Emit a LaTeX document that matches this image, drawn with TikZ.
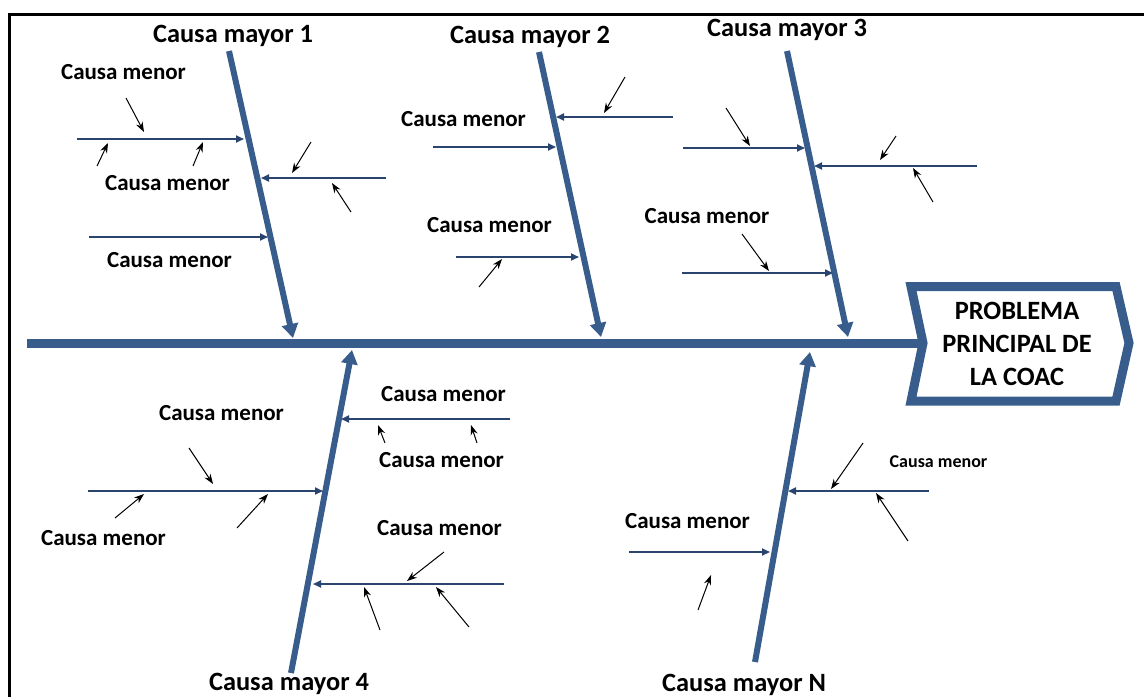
\documentclass[tikz,border=0pt]{standalone}
\usepackage{fontspec}
\setmainfont{Carlito}
\usetikzlibrary{arrows.meta}

\definecolor{azul}{RGB}{56,93,140}
\definecolor{azulosc}{RGB}{42,68,112}

\tikzset{
    espina/.style={azul, line width=3pt, -{Triangle[length=7pt,width=8pt]}},
    rama/.style={azulosc, line width=0.9pt, -{Triangle[length=4pt,width=3.5pt]}},
    flecha/.style={black, line width=0.5pt, -{Stealth[length=5pt,width=3.6pt]}},
    mayor/.style={inner sep=0pt, anchor=base, font=\fontsize{13.2}{16}\selectfont\bfseries},
    menor/.style={inner sep=0pt, anchor=base, font=\fontsize{11.5}{14}\selectfont\bfseries},
}

\begin{document}
\begin{tikzpicture}[x=0.5pt, y=-0.5pt]
    \useasboundingbox (0,0) rectangle (1144,697);

    % marco
    \draw[line width=1.5pt] (1144,14) -- (9,14) -- (9,697);

    % cabeza del pescado
    \draw[azul, line width=4.5pt, line join=miter]
        (911,286.5) -- (1116,286.5) -- (1129,343) -- (1116,401)
        -- (911,401) -- (923,343) -- cycle;
    \node (problema) [inner sep=0pt, align=center,
        font=\fontsize{13.2}{16.5}\selectfont\bfseries] at (1017,344)
        {PROBLEMA\\PRINCIPAL DE\\LA COAC};

    % espina central
    \coordinate (cola) at (27,343);
    \coordinate (cabeza) at (923,343);
    \draw[azul, line width=4.5pt] (cola) -- (cabeza);

    % causas mayores
    \coordinate (m1) at (229,51);  \coordinate (e1) at (293,338);
    \coordinate (m2) at (539,52);  \coordinate (e2) at (601,337);
    \coordinate (m3) at (787,51);  \coordinate (e3) at (848,337);
    \coordinate (m4) at (291,673); \coordinate (e4) at (352,350);
    \coordinate (mN) at (755,662); \coordinate (eN) at (810,352);
    \draw[espina] (m1) -- (e1);
    \draw[espina] (m2) -- (e2);
    \draw[espina] (m3) -- (e3);
    \draw[espina] (m4) -- (e4);
    \draw[espina] (mN) -- (eN);

    \node (t1) [mayor] at (233,42) {Causa mayor 1};
    \node (t2) [mayor] at (530,43) {Causa mayor 2};
    \node (t3) [mayor] at (787,36) {Causa mayor 3};
    \node (t4) [mayor] at (289,690) {Causa mayor 4};
    \node (tN) [mayor] at (744,691) {Causa mayor N};

    % ramas de la causa 1
    \draw[rama] (77,139) -- (244,139);
    \draw[rama] (386,178) -- (261,178);
    \draw[rama] (89,237) -- (268,237);
    \draw[flecha] (126,98) -- (144,132);
    \draw[flecha] (97,166) -- (108,143);
    \draw[flecha] (193,166) -- (203,142);
    \draw[flecha] (311,142) -- (292,173);
    \draw[flecha] (351,212) -- (332,183);
    \node (c1) [menor] at (123.5,79) {Causa menor};
    \node (c2) [menor] at (167.5,190) {Causa menor};
    \node (c3) [menor] at (169.5,267) {Causa menor};

    % ramas de la causa 2
    \draw[rama] (673,117) -- (556,117);
    \draw[rama] (433,147) -- (556,147);
    \draw[rama] (456,257) -- (579,257);
    \draw[flecha] (625,77) -- (604,113);
    \draw[flecha] (479,287) -- (502,259);
    \node (c4) [menor] at (463.5,126) {Causa menor};
    \node (c5) [menor] at (489.5,232) {Causa menor};

    % ramas de la causa 3
    \draw[rama] (683,148) -- (805,148);
    \draw[rama] (977,166) -- (814,166);
    \draw[rama] (682,273) -- (833,273);
    \draw[flecha] (726,108) -- (750,146);
    \draw[flecha] (896,136) -- (880,160);
    \draw[flecha] (933,202) -- (913,168);
    \draw[flecha] (742,234) -- (769,271);
    \node (c6) [menor] at (707,223) {Causa menor};

    % ramas de la causa 4
    \draw[rama] (510,419) -- (341,419);
    \draw[rama] (88,491) -- (323,491);
    \draw[rama] (504,584) -- (313,584);
    \draw[flecha] (385,443) -- (378,425);
    \draw[flecha] (477,443) -- (471,425);
    \draw[flecha] (189,448) -- (213,484);
    \draw[flecha] (115,518) -- (144,494);
    \draw[flecha] (237,528) -- (268,494);
    \draw[flecha] (444,552) -- (407,581);
    \draw[flecha] (380,630) -- (364,587);
    \draw[flecha] (469,627) -- (436,587);
    \node (c7) [menor] at (443.5,401) {Causa menor};
    \node (c8) [menor] at (441.5,467) {Causa menor};
    \node (c9) [menor] at (221.5,420) {Causa menor};
    \node (c10) [menor] at (103.5,545) {Causa menor};
    \node (c11) [menor] at (439.5,535) {Causa menor};

    % ramas de la causa N
    \draw[rama] (929,491) -- (788,491);
    \draw[rama] (629,552) -- (770,552);
    \draw[flecha] (863,443) -- (831,489);
    \draw[flecha] (908,541) -- (876,493);
    \draw[flecha] (698,610) -- (711,575);
    \node (c12) [menor, font=\fontsize{9}{11}\selectfont\bfseries] at (938.5,467) {Causa menor};
    \node (c13) [menor] at (687.5,528) {Causa menor};

\end{tikzpicture}
\end{document}
